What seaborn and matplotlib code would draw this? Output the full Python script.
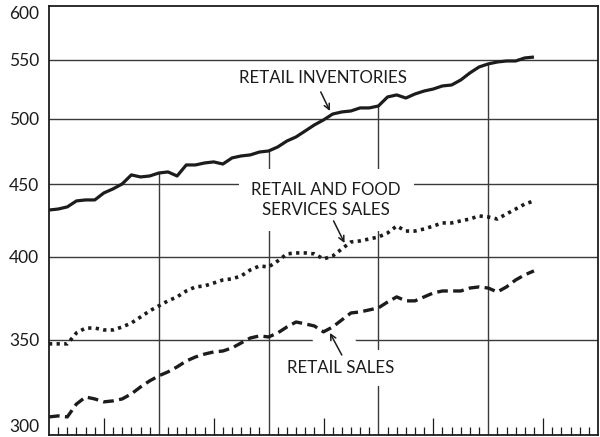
import numpy as np
import pandas as pd
import matplotlib
matplotlib.use("Agg")
import matplotlib.pyplot as plt
import matplotlib.ticker as mticker
import seaborn as sns

# monthly values, 5-year span (60 months on the axis, 54 months of data)
months = list(range(54))

retail_inventories = [431.5, 432.2, 433.7, 437.9, 438.6, 438.6, 443.6, 446.5, 450.1, 456.7,
                      455.2, 455.9, 458.1, 458.9, 455.9, 464.1, 464.1, 465.6, 466.4, 464.8,
                      469.4, 470.9, 471.7, 473.9, 474.7, 477.8, 482.4, 485.6, 490.3, 495.1,
                      499.1, 503.9, 505.6, 506.4, 508.9, 508.9, 510.5, 518.0, 519.7, 517.1,
                      520.5, 523.0, 524.7, 527.3, 528.1, 532.4, 538.5, 543.7, 546.4, 548.1,
                      549.0, 549.0, 551.7, 552.5]

retail_food_sales = [347.6, 347.6, 347.6, 353.8, 356.6, 356.6, 355.5, 355.5, 357.2, 359.5,
                     363.0, 366.6, 369.6, 372.6, 375.0, 378.6, 381.1, 381.7, 383.5, 385.4,
                     386.1, 387.9, 391.7, 394.2, 393.6, 397.4, 402.0, 402.6, 402.6, 402.0,
                     398.7, 400.6, 405.2, 409.8, 410.5, 411.8, 413.1, 415.8, 420.5, 417.1,
                     417.1, 418.5, 420.5, 422.6, 422.6, 424.0, 425.3, 427.4, 426.7, 425.3,
                     428.8, 432.2, 435.7, 437.9]

retail_sales = [308.9, 309.4, 308.9, 315.4, 319.0, 318.0, 316.5, 317.0, 318.0, 320.6,
                324.2, 327.4, 330.1, 332.2, 334.9, 338.1, 340.3, 341.9, 343.1, 343.6,
                345.3, 348.1, 350.9, 352.1, 351.5, 353.8, 357.2, 360.1, 359.0, 357.8,
                354.4, 357.2, 361.3, 365.4, 366.0, 367.2, 368.4, 371.9, 375.0, 372.6,
                372.6, 375.0, 377.4, 378.6, 378.6, 378.6, 380.4, 381.1, 380.4, 378.0,
                381.1, 385.4, 388.6, 391.1]

y_ticks = [300, 350, 400, 450, 500, 550, 600]
n_months = 60
year_marks = [12, 24, 36, 48]

df = pd.DataFrame({'month': months,
                   'inv': retail_inventories,
                   'food': retail_food_sales,
                   'sales': retail_sales})

sns.set_style('white')
plt.rcParams['font.family'] = ['Lato', 'DejaVu Sans']

ink = '#1c1c1c'
grid = '#3a3a3a'

fig = plt.figure(figsize=(6, 4.37), dpi=100)
ax = fig.add_axes([49 / 600, 2 / 437, 549 / 600, 429 / 437])

ax.set_yscale('log')
ax.set_ylim(300, 600)
ax.set_xlim(0, n_months)

# horizontal grid
for v in y_ticks[1:-1]:
    ax.axhline(v, color=grid, lw=1.0, zorder=1)

# vertical year lines, running up to the inventories curve
ax.vlines(year_marks, 300, df.loc[year_marks, 'inv'], color=grid, lw=1.0, zorder=1)

sns.lineplot(data=df, x='month', y='inv', ax=ax, color=ink, lw=2.3, zorder=4)
sns.lineplot(data=df, x='month', y='food', ax=ax, color=ink, lw=2.6, zorder=4,
             linestyle=(0, (0.9, 1.2)))
sns.lineplot(data=df, x='month', y='sales', ax=ax, color=ink, lw=2.4, zorder=4,
             linestyle=(0, (3.2, 1.6)))
for ln in ax.lines[-3:]:
    ln.set_solid_capstyle('butt')
    ln.set_dash_capstyle('butt')

txt = dict(fontsize=12.2, color=ink, ha='center', va='center')
arrow = dict(arrowstyle='->', color=ink, lw=1.1, shrinkA=0, shrinkB=0,
             mutation_scale=10)

ax.text(29.9, 534, 'RETAIL INVENTORIES', zorder=3, **txt)
ax.annotate('', xy=(30.7, 506.4), xytext=(29.7, 522.2), arrowprops=arrow, zorder=3)

ax.text(30.3, 438.6, 'RETAIL AND FOOD\nSERVICES SALES', linespacing=1.3,
        bbox=dict(boxstyle='square,pad=0.75', fc='white', ec='none'), zorder=2, **txt)
ax.annotate('', xy=(32.3, 409.1), xytext=(31.1, 424.0), arrowprops=arrow, zorder=3)

ax.text(31.9, 334.3, 'RETAIL SALES',
        bbox=dict(boxstyle='square,pad=0.6', fc='white', ec='none'), zorder=2, **txt)
# white mask behind the retail sales arrow where it crosses the grid
ax.annotate('', xy=(30.9, 351.5), xytext=(31.8, 343.0),
            arrowprops=dict(arrowstyle='-', color='white', lw=28, shrinkA=0, shrinkB=0),
            zorder=1.5)
ax.annotate('', xy=(30.7, 353.8), xytext=(32.0, 341.4), arrowprops=arrow, zorder=3)

# axes cosmetics
ax.yaxis.set_major_locator(mticker.FixedLocator(y_ticks))
ax.yaxis.set_major_formatter(mticker.FormatStrFormatter('%d'))
ax.yaxis.set_minor_locator(mticker.NullLocator())
ax.tick_params(axis='y', left=False, length=0, pad=7, labelsize=12.5, labelcolor=ink)
labels = ax.get_yticklabels()
labels[0].set_verticalalignment('bottom')
labels[-1].set_verticalalignment('top')

half_years = [m for m in range(6, n_months, 12)]
other = [m for m in range(1, n_months) if m % 6 != 0]
ax.xaxis.set_major_locator(mticker.FixedLocator(half_years))
ax.xaxis.set_minor_locator(mticker.FixedLocator(other))
ax.xaxis.set_major_formatter(mticker.NullFormatter())
ax.tick_params(axis='x', which='major', bottom=True, direction='in', length=12,
               width=0.9, color=ink)
ax.tick_params(axis='x', which='minor', bottom=True, direction='in', length=6,
               width=0.9, color=ink)
ax.set_xlabel('')
ax.set_ylabel('')

for s in ax.spines.values():
    s.set_color(ink)
    s.set_linewidth(1.3)
    s.set_zorder(5)

fig.savefig('out.png', dpi=100)
